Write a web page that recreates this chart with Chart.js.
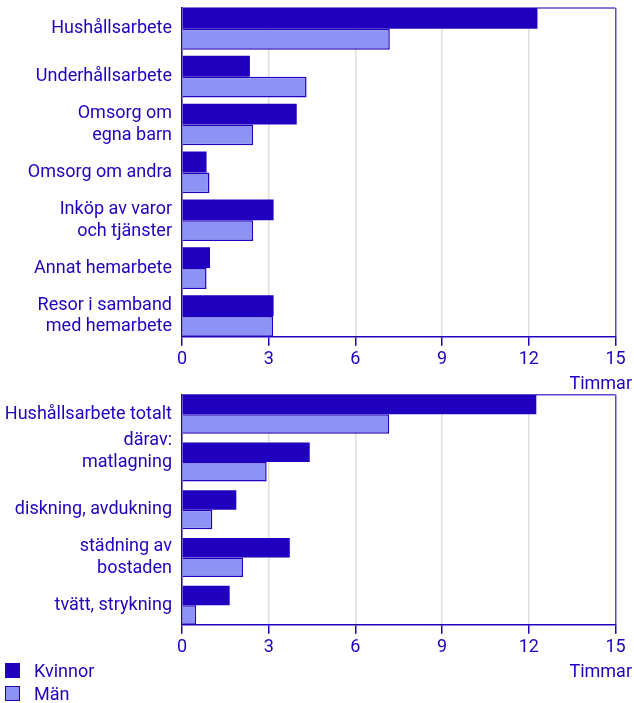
<!DOCTYPE html>
<html lang="sv">
<head>
<meta charset="utf-8">
<title>Hemarbete</title>
<script src="https://cdn.jsdelivr.net/npm/chart.js@4/dist/chart.umd.min.js"></script>
<style>
  body { margin: 0; background: #fff; font-family: Roboto, sans-serif; }
  .box { position: absolute; left: 0; width: 634px; }
  #topBox { top: 0; height: 395px; }
  #bottomBox { top: 389px; height: 294px; }
  #legend { position: absolute; left: 5px; top: 659px; color: #2300c0; font-size: 18px; }
  .item { display: flex; align-items: center; height: 23px; }
  .swatch { width: 13px; height: 13px; margin-right: 14px; border: 1px solid #2000be; }
</style>
</head>
<body>
<div class="box" id="topBox"><canvas id="topChart"></canvas></div>
<div class="box" id="bottomBox"><canvas id="bottomChart"></canvas></div>
<div id="legend"></div>

<script>
// Series
const series = ['Kvinnor', 'Män'];
const fillColors = ['#2000be', '#8c93f5'];

// Upper chart: hours per week
const topLabels = [
    'Hushållsarbete',
    'Underhållsarbete',
    ['Omsorg om', 'egna barn'],
    'Omsorg om andra',
    ['Inköp av varor', 'och tjänster'],
    'Annat hemarbete',
    ['Resor i samband', 'med hemarbete']
];
const topKvinnor = [12.3, 2.35, 3.97, 0.85, 3.17, 0.97, 3.17];
const topMan = [7.19, 4.31, 2.46, 0.95, 2.46, 0.85, 3.15];

// Lower chart: breakdown of household work
const bottomLabels = [
    'Hushållsarbete totalt',
    ['därav:', 'matlagning', ''],
    'diskning, avdukning',
    ['städning av', 'bostaden'],
    'tvätt, strykning'
];
const bottomKvinnor = [12.26, 4.42, 1.88, 3.73, 1.65];
const bottomMan = [7.17, 2.93, 1.05, 2.11, 0.49];

// Axis
const hourTicks = [0, 3, 6, 9, 12, 15];
const axisTitle = 'Timmar';

const ink = '#2300c0';
Chart.defaults.font.family = 'Roboto';
Chart.defaults.font.size = 18;
Chart.defaults.color = ink;

// top edge of the plot frame
const frame = {
    id: 'frame',
    beforeDatasetsDraw(chart) {
        const { ctx, chartArea: a } = chart;
        ctx.save();
        ctx.strokeStyle = '#5a48d0';
        ctx.lineWidth = 1.5;
        ctx.beginPath();
        ctx.moveTo(a.left, a.top);
        ctx.lineTo(a.right, a.top);
        ctx.stroke();
        ctx.restore();
    }
};

function makeChart(id, labels, kvinnor, man, share, padTop) {
    const ctx = document.getElementById(id).getContext('2d');
    return new Chart(ctx, {
        type: 'bar',
        data: {
            datasets: [{
                label: series[0],
                data: kvinnor.map((v, i) => ({ x: v, y: i })),
                backgroundColor: fillColors[0],
                borderColor: '#2000be',
                borderWidth: 0
            }, {
                label: series[1],
                data: man.map((v, i) => ({ x: v, y: i })),
                backgroundColor: fillColors[1],
                borderColor: '#2000be',
                borderWidth: 1.5
            }]
        },
        options: {
            indexAxis: 'y',
            responsive: true,
            maintainAspectRatio: false,
            animation: false,
            layout: { padding: { top: padTop, right: 2, bottom: 0, left: 0 } },
            datasets: { bar: { categoryPercentage: share, barPercentage: 1 } },
            plugins: {
                legend: { display: false },
                tooltip: { enabled: false },
                title: {
                    display: true,
                    text: axisTitle,
                    position: 'bottom',
                    align: 'end',
                    color: ink,
                    font: { size: 18, weight: 'normal' },
                    padding: { top: 0, bottom: 0 }
                }
            },
            scales: {
                x: {
                    type: 'linear',
                    min: 0,
                    max: 15,
                    afterBuildTicks: s => { s.ticks = hourTicks.map(v => ({ value: v })); },
                    afterFit: s => { s.paddingRight = 18.5; },
                    grid: {
                        color: c => (c.tick && c.tick.value === 15) ? '#5a48d0' : '#e2ded9',
                        lineWidth: 1.5,
                        tickColor: '#2000be',
                        tickLength: 9
                    },
                    border: { color: '#2000be', width: 1.5 },
                    ticks: { padding: 3, color: ink, maxRotation: 0 }
                },
                y: {
                    type: 'linear',
                    reverse: true,
                    offset: false,
                    bounds: 'data',
                    min: -share / 2,
                    max: labels.length - 1 + share / 2,
                    afterBuildTicks: s => { s.ticks = labels.map((_, i) => ({ value: i })); },
                    afterFit: s => { s.width = 182; s.paddingTop = 0; s.paddingBottom = 0; },
                    grid: { display: false, drawTicks: false, offset: false },
                    border: { color: '#2000be', width: 1.5 },
                    ticks: { autoSkip: false, padding: 10, color: ink, callback: v => labels[v] }
                }
            }
        },
        plugins: [frame]
    });
}

makeChart('topChart', topLabels, topKvinnor, topMan, 0.87, 8);
makeChart('bottomChart', bottomLabels, bottomKvinnor, bottomMan, 0.82, 5.7);

// legend
const legend = document.getElementById('legend');
series.forEach((name, i) => {
    const row = document.createElement('div');
    row.className = 'item';
    const sw = document.createElement('span');
    sw.className = 'swatch';
    sw.style.background = fillColors[i];
    row.appendChild(sw);
    row.appendChild(document.createTextNode(name));
    legend.appendChild(row);
});
</script>
</body>
</html>
